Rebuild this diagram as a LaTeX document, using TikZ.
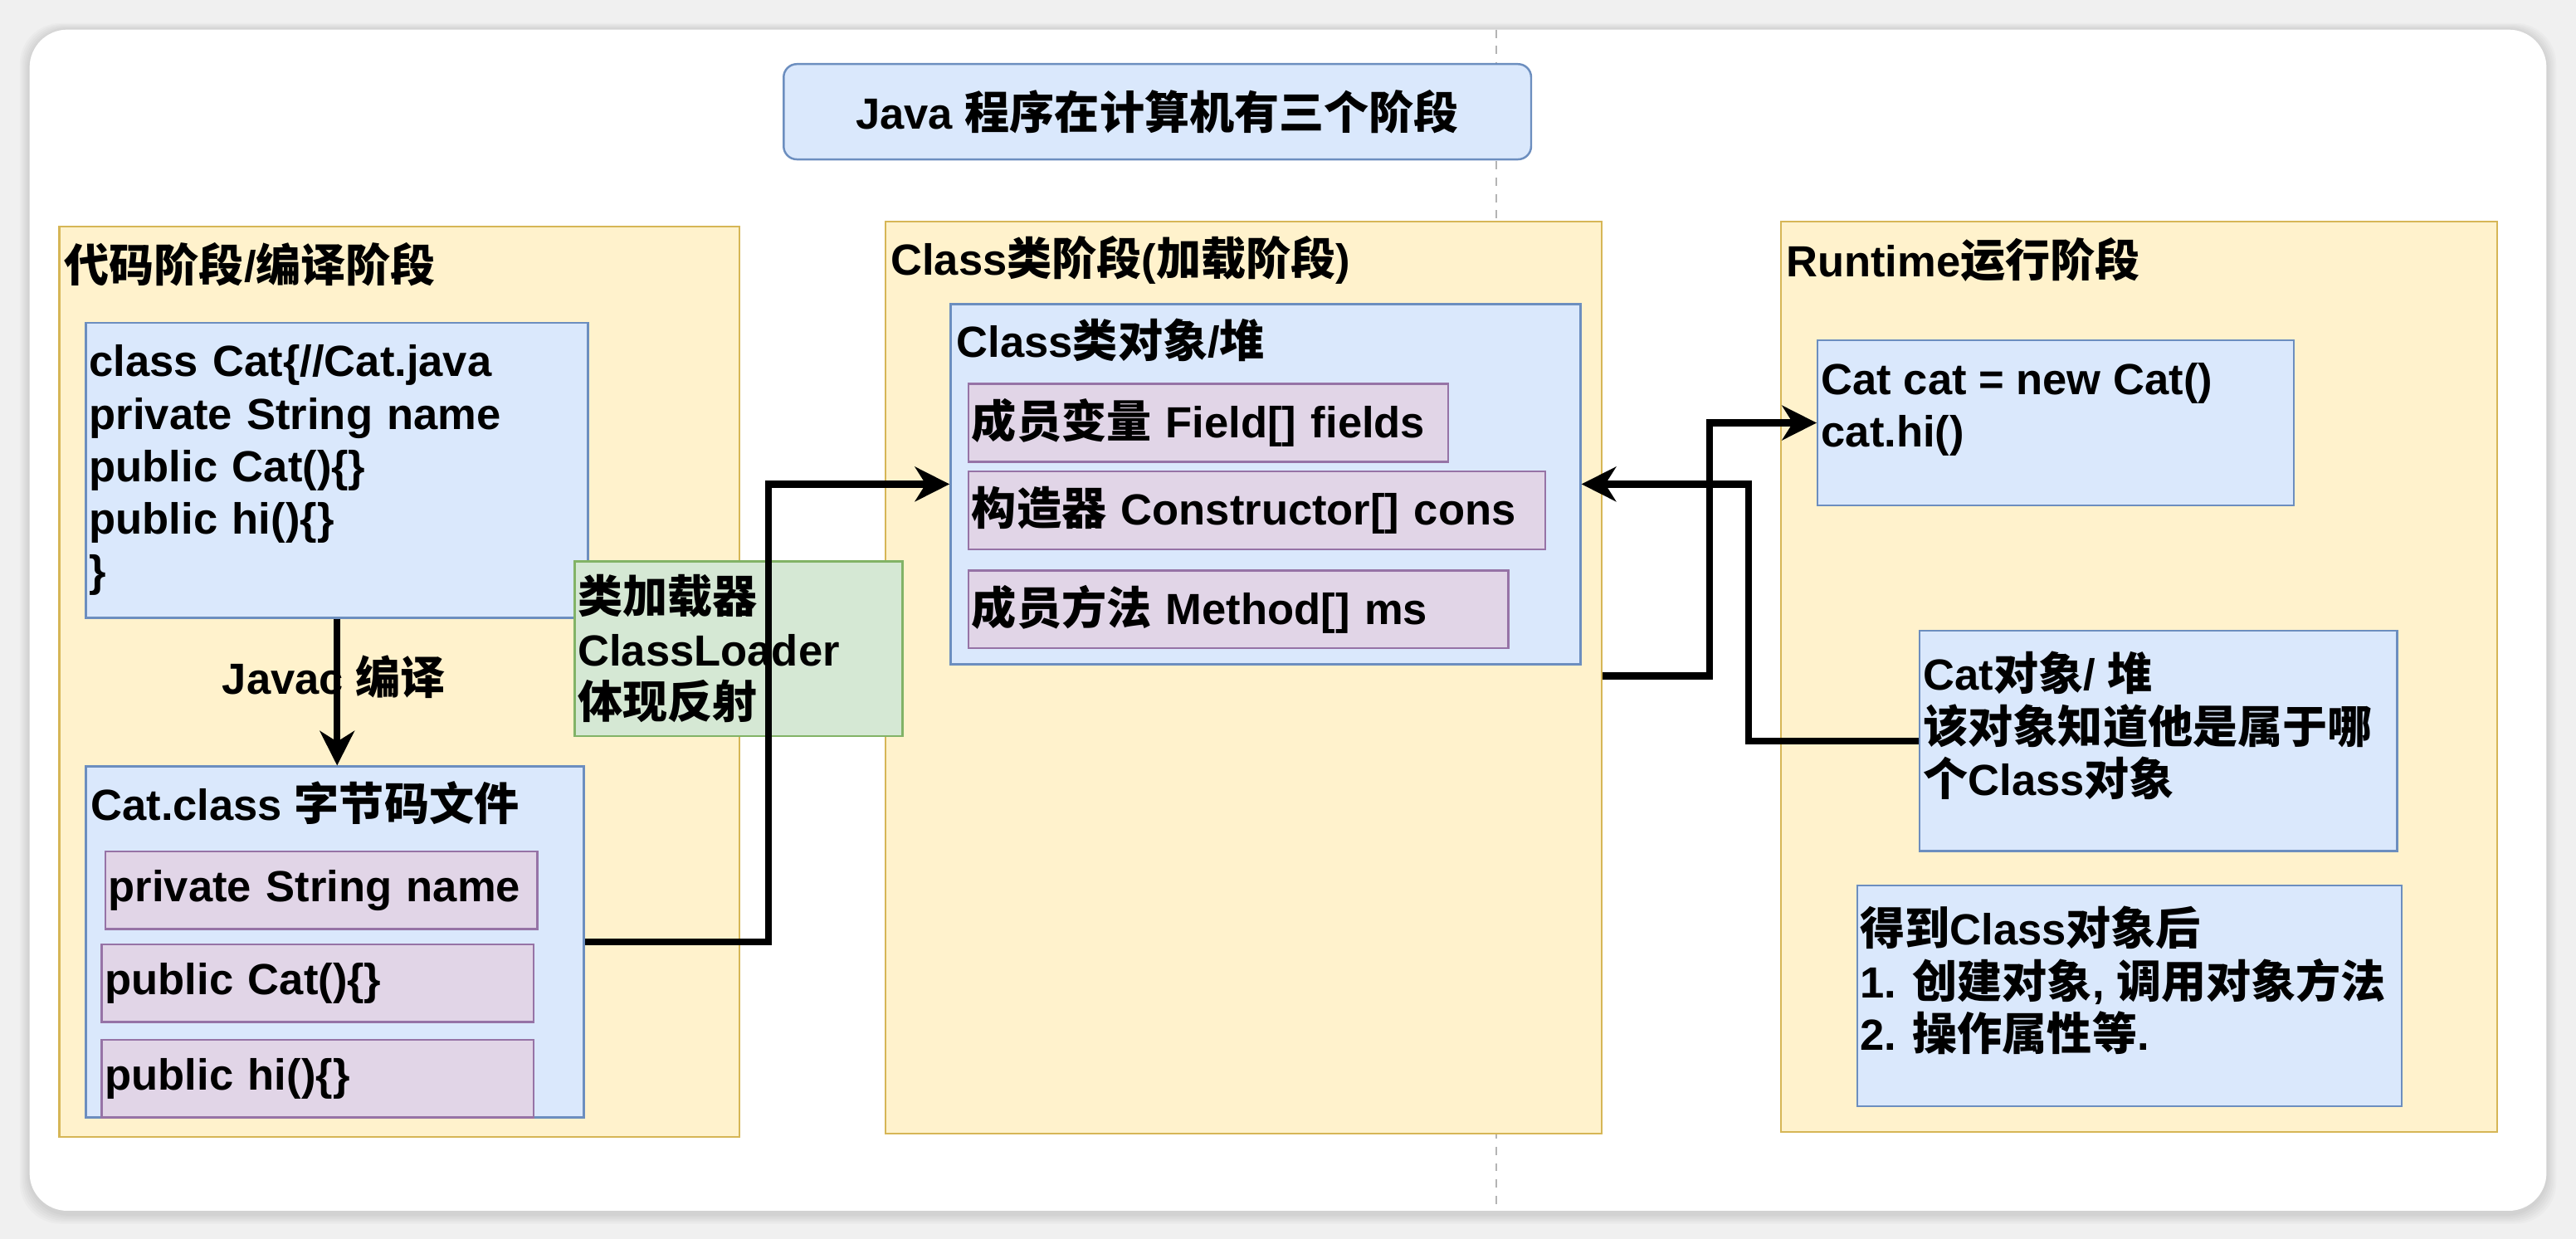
\documentclass[tikz,border=0pt]{standalone}
\usepackage{fontspec}
\setmainfont{Liberation Sans}
\newfontfamily\cjkfont{Noto Sans CJK SC}[Scale=1.03]
\usetikzlibrary{arrows.meta, calc}
% Chinese characters switch to the CJK family by themselves
\newcount\cjkcode
\newXeTeXintercharclass\cjkclass
\cjkcode="4E00
\loop
	\XeTeXcharclass\cjkcode=\cjkclass
	\ifnum\cjkcode<"9FFF \advance\cjkcode by 1 \repeat
\XeTeXinterchartoks 0 \cjkclass = {\cjkfont}
\XeTeXinterchartoks 4095 \cjkclass = {\cjkfont}
\XeTeXinterchartoks \cjkclass 0 = {\rmfamily}
\XeTeXinterchartoks \cjkclass 4095 = {\rmfamily}
\XeTeXinterchartokenstate=1
\newlength\pxu
\setlength\pxu{0.2mm}
\definecolor{cYellowF}{HTML}{FFF2CC}
\definecolor{cYellowD}{HTML}{D6B656}
\definecolor{cBlueF}{HTML}{DAE8FC}
\definecolor{cBlueD}{HTML}{6C8EBF}
\definecolor{cPurpleF}{HTML}{E1D5E7}
\definecolor{cPurpleD}{HTML}{9673A6}
\definecolor{cGreenF}{HTML}{D5E8D4}
\definecolor{cGreenD}{HTML}{82B366}
\definecolor{cBack}{RGB}{240,240,240}
\definecolor{cDash}{RGB}{180,180,180}
\tikzset{
	stage/.style={rectangle, draw=cYellowD, fill=cYellowF, line width=0.25mm},
	blk/.style  ={rectangle, draw=cBlueD, fill=cBlueF, line width=0.25mm, inner xsep=2\pxu, inner ysep=0pt, align=left},
	mbr/.style  ={blk, draw=cPurpleD, fill=cPurpleF},
	ldr/.style  ={blk, draw=cGreenD, fill=cGreenF},
	ttl/.style  ={anchor=base west, inner sep=0pt},
	txt/.style  ={anchor=north west, inner sep=0pt, align=left},
	sig/.style  ={-{Stealth[length=4.2mm, width=4.2mm, inset=1.3mm]}, line width=0.84mm},
}
\begin{document}
\begin{tikzpicture}[x=0.2mm, y=-0.2mm, font=\fontsize{15.1pt}{18.2pt}\selectfont\bfseries]
	\useasboundingbox (0,0) rectangle (1568,754);
	\fill[cBack] (0,0) rectangle (1568,754);
	\foreach \s in {2,4,...,12}
		\fill[black, opacity=0.018, rounded corners=5mm] (18-\s/2,18-\s/3) rectangle (1550+\s/2,737+\s/2+2);
	\fill[white, rounded corners=4.6mm] (18,18) rectangle (1550,737);
	\draw[cDash, line width=0.2mm, dash pattern=on 1mm off 1mm] (910.8,18) -- (910.8,737);
	\node[blk, rounded corners=1.6mm, minimum width=455\pxu, minimum height=58\pxu, align=center] (title) at (704.5,68) {Java 程序在计算机有三个阶段};
	% the three stages
	\node[stage, minimum width=414\pxu, minimum height=554\pxu] (code) at (243,415) {};
	\node[stage, minimum width=436\pxu, minimum height=555\pxu] (loadst) at (757,412.5) {};
	\node[stage, minimum width=436\pxu, minimum height=554\pxu] (runst) at (1302,412) {};
	\node[ttl] (codeT) at ($(code.north west)+(3.5,34)$) {代码阶段/编译阶段};
	\node[ttl] (loadstT) at ($(loadst.north west)+(3.5,33)$) {Class类阶段(加载阶段)};
	\node[ttl] (runstT) at ($(runst.north west)+(3.5,34)$) {Runtime运行阶段};
	% source and byte code
	\node[blk, minimum width=305.6\pxu, minimum height=179.4\pxu, text width=301.6\pxu] (src) at (205.2,286.3)
		{class Cat\{//Cat.java\\private String name\\public Cat()\{\}\\public hi()\{\}\\\}};
	\node[blk, minimum width=303\pxu, minimum height=213.6\pxu] (bytecode) at (203.9,573.4) {};
	\node[ttl] (bytecodeT) at ($(bytecode.north west)+(3.2,33.4)$) {Cat.class 字节码文件};
	\node[mbr, minimum width=262.9\pxu, minimum height=47.2\pxu, text width=258.9\pxu] (mName) at (195.55,541.8) {private String name};
	\node[mbr, minimum width=262.9\pxu, minimum height=47.2\pxu, text width=258.9\pxu] (mCtor) at (193.45,598.4) {public Cat()\{\}};
	\node[mbr, minimum width=262.9\pxu, minimum height=47.2\pxu, text width=258.9\pxu] (mHi) at (193.45,656.6) {public hi()\{\}};
	\node[anchor=base, inner sep=0pt] (javac) at ($(src.south)+(-2,46)$) {Javac 编译};
	\draw[sig] (src.south) -- (src.south |- bytecode.north);
	\node[ldr, minimum width=199.5\pxu, minimum height=106.3\pxu, text width=195.5\pxu] (loader) at (449.55,394.85) {类加载器\\ClassLoader\\体现反射};
	% class object
	\node[blk, minimum width=383.4\pxu, minimum height=219.2\pxu] (clsobj) at (770.3,294.7) {};
	\node[ttl] (clsobjT) at ($(clsobj.north west)+(4,33.2)$) {Class类对象/堆};
	\node[mbr, minimum width=292\pxu, minimum height=47.4\pxu, text width=288\pxu] (fld) at (735.5,257.3) {成员变量 Field[] fields};
	\node[mbr, minimum width=351.1\pxu, minimum height=47.4\pxu, text width=347.1\pxu] (cons) at (765.05,310.7) {构造器 Constructor[] cons};
	\node[mbr, minimum width=328.7\pxu, minimum height=47.2\pxu, text width=324.7\pxu] (mth) at (753.85,370.9) {成员方法 Method[] ms};
	% runtime
	\node[blk, minimum width=289.8\pxu, minimum height=100.4\pxu] (newcat) at (1251.3,257.4) {};
	\node[txt] (newcatT) at ($(newcat.north west)+(2.5,14)$) {Cat cat = new Cat()\\cat.hi()};
	\node[blk, minimum width=290.5\pxu, minimum height=134\pxu] (catobj) at (1313.75,451) {};
	\node[txt] (catobjT) at ($(catobj.north west)+(2.5,13)$) {Cat对象/ 堆\\该对象知道他是属于哪\\个Class对象};
	\node[blk, minimum width=331.4\pxu, minimum height=134.4\pxu] (after) at (1296.2,606.2) {};
	\node[txt] (afterT) at ($(after.north west)+(2,13)$) {得到Class对象后\\1. 创建对象, 调用对象方法\\2. 操作属性等.};
	% connectors
	\coordinate (ldout) at ($(loadst.north east)+(0,277)$);
	\draw[sig] (bytecode.east) -- ++(111.6,0) |- (clsobj.west);
	\draw[sig] (ldout) -- ++(65,0) |- (newcat.west);
	\draw[sig] (catobj.west) -- ++(-103.5,0) |- (clsobj.east);
\end{tikzpicture}
\end{document}
